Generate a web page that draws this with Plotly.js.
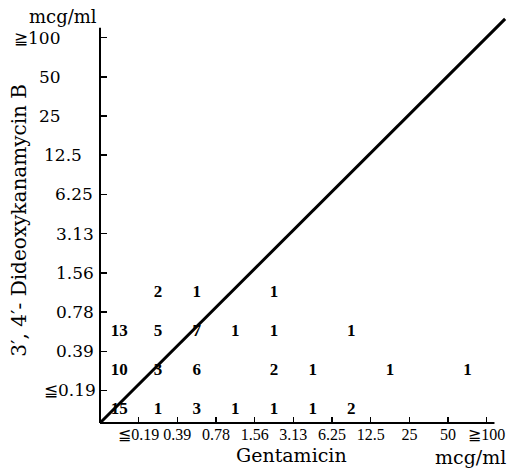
<!DOCTYPE html>
<html>
<head>
<meta charset="utf-8">
<script src="https://cdn.plot.ly/plotly-3.0.1.min.js"></script>
<style>html,body{margin:0;padding:0;background:#fff;}#chart{width:510px;height:468px;}</style>
</head>
<body>
<div id="chart"></div>
<script>
// MIC categories (mcg/ml), shared by both drugs
const micCategories = ["≦0.19", "0.39", "0.78", "1.56", "3.13", "6.25", "12.5", "25", "50", "≧100"];
const xTickLabels = micCategories;
const yTickLabels = micCategories;

// Number of strains in each cell: Gentamicin MIC (x) vs 3',4'-Dideoxykanamycin B MIC (y)
const gentamicinMIC = ["≦0.19", "0.39", "0.78", "1.56", "3.13", "6.25", "12.5",
                       "≦0.19", "0.39", "0.78", "3.13", "6.25", "25", "≧100",
                       "≦0.19", "0.39", "0.78", "1.56", "3.13", "12.5",
                       "0.39", "0.78", "3.13"];
const dkbMIC       = ["≦0.19", "≦0.19", "≦0.19", "≦0.19", "≦0.19", "≦0.19", "≦0.19",
                       "0.39", "0.39", "0.39", "0.39", "0.39", "0.39", "0.39",
                       "0.78", "0.78", "0.78", "0.78", "0.78", "0.78",
                       "1.56", "1.56", "1.56"];
const strainCounts = [15, 1, 3, 1, 1, 1, 2,
                      10, 3, 6, 2, 1, 1, 1,
                      13, 5, 7, 1, 1, 1,
                      2, 1, 1];

// ---- layout helpers ----
const idx = c => micCategories.indexOf(c);
const xs = gentamicinMIC.map(c => idx(c) + 0.5);   // cell centres
const ys = dkbMIC.map(c => idx(c) + 0.5);
const tickPos = micCategories.map((c, i) => i + 1);

const L = 100, PW = 408;
// right edge (px) of each y tick label, as staggered in the original print
const yLabelRight = [97, 95, 95, 95, 95, 94, 83, 62, 62, 61];
const yLabelAnns = yTickLabels.map((t, i) => ({
  text: t, xref: "paper", yref: "y",
  x: (yLabelRight[i] - L) / PW, y: tickPos[i],
  xanchor: "right", yanchor: "middle", showarrow: false, borderpad: 0,
  font: {family: "DejaVu Serif", size: 17, color: "#000"}
}));

const xRange = [0, 10.55];
const yRange = [0.17, 10.55];

const traces = [{
  type: "scatter",
  mode: "text",
  x: xs,
  y: ys,
  text: strainCounts.map(String),
  textposition: "middle center",
  textfont: {family: "Liberation Serif", size: 17, color: "#000", weight: "bold"},
  hoverinfo: "skip",
  showlegend: false,
  cliponaxis: false
}];

const layout = {
  width: 510, height: 468,
  margin: {l: L, r: 2, t: 16, b: 45},
  paper_bgcolor: "#fff", plot_bgcolor: "#fff",
  showlegend: false,
  xaxis: {
    range: xRange, showgrid: false, zeroline: false, showline: false,
    tickmode: "array", tickvals: tickPos, ticktext: xTickLabels, tickangle: 0,
    ticks: "inside", ticklen: 6, tickwidth: 1.5, tickcolor: "#000",
    tickfont: {family: "Liberation Serif", size: 16, color: "#000"}
  },
  yaxis: {
    range: yRange, showgrid: false, zeroline: false, showline: false,
    tickmode: "array", tickvals: tickPos, showticklabels: false,
    ticks: "inside", ticklen: 7, tickwidth: 1.5, tickcolor: "#000"
  },
  shapes: [
    // x axis line
    {type: "line", xref: "paper", yref: "paper", x0: 0, y0: 0, x1: 10.2 / 10.55, y1: 0,
     line: {color: "#000", width: 2}},
    // y axis line
    {type: "line", xref: "paper", yref: "paper", x0: 0, y0: 0, x1: 0, y1: (10.25 - 0.17) / (10.55 - 0.17),
     line: {color: "#000", width: 2}},
    // diagonal (equal MIC)
    {type: "line", xref: "paper", yref: "paper", x0: 0, y0: 0, x1: 0.993, y1: 0.993,
     line: {color: "#000", width: 3}}
  ],
  annotations: yLabelAnns.concat([
    {text: "Gentamicin", xref: "paper", yref: "paper", x: 0.469, y: -0.079,
     xanchor: "center", yanchor: "middle", showarrow: false,
     font: {family: "DejaVu Serif", size: 19, color: "#000"}},
    {text: "mcg/ml", xref: "paper", yref: "paper", x: 0.907, y: -0.084,
     xanchor: "center", yanchor: "middle", showarrow: false,
     font: {family: "DejaVu Serif", size: 19, color: "#000"}},
    {text: "mcg/ml", xref: "paper", yref: "paper", x: -0.091, y: 1.0,
     xanchor: "center", yanchor: "middle", showarrow: false,
     font: {family: "DejaVu Serif", size: 18, color: "#000"}},
    {text: "3′, 4′- Dideoxykanamycin B", xref: "paper", yref: "paper", x: -0.199, y: 0.499,
     xanchor: "center", yanchor: "middle", showarrow: false, textangle: -90,
     font: {family: "DejaVu Serif", size: 20, color: "#000"}}
  ])
};

Plotly.newPlot("chart", traces, layout, {displayModeBar: false, staticPlot: true});
</script>
</body>
</html>
